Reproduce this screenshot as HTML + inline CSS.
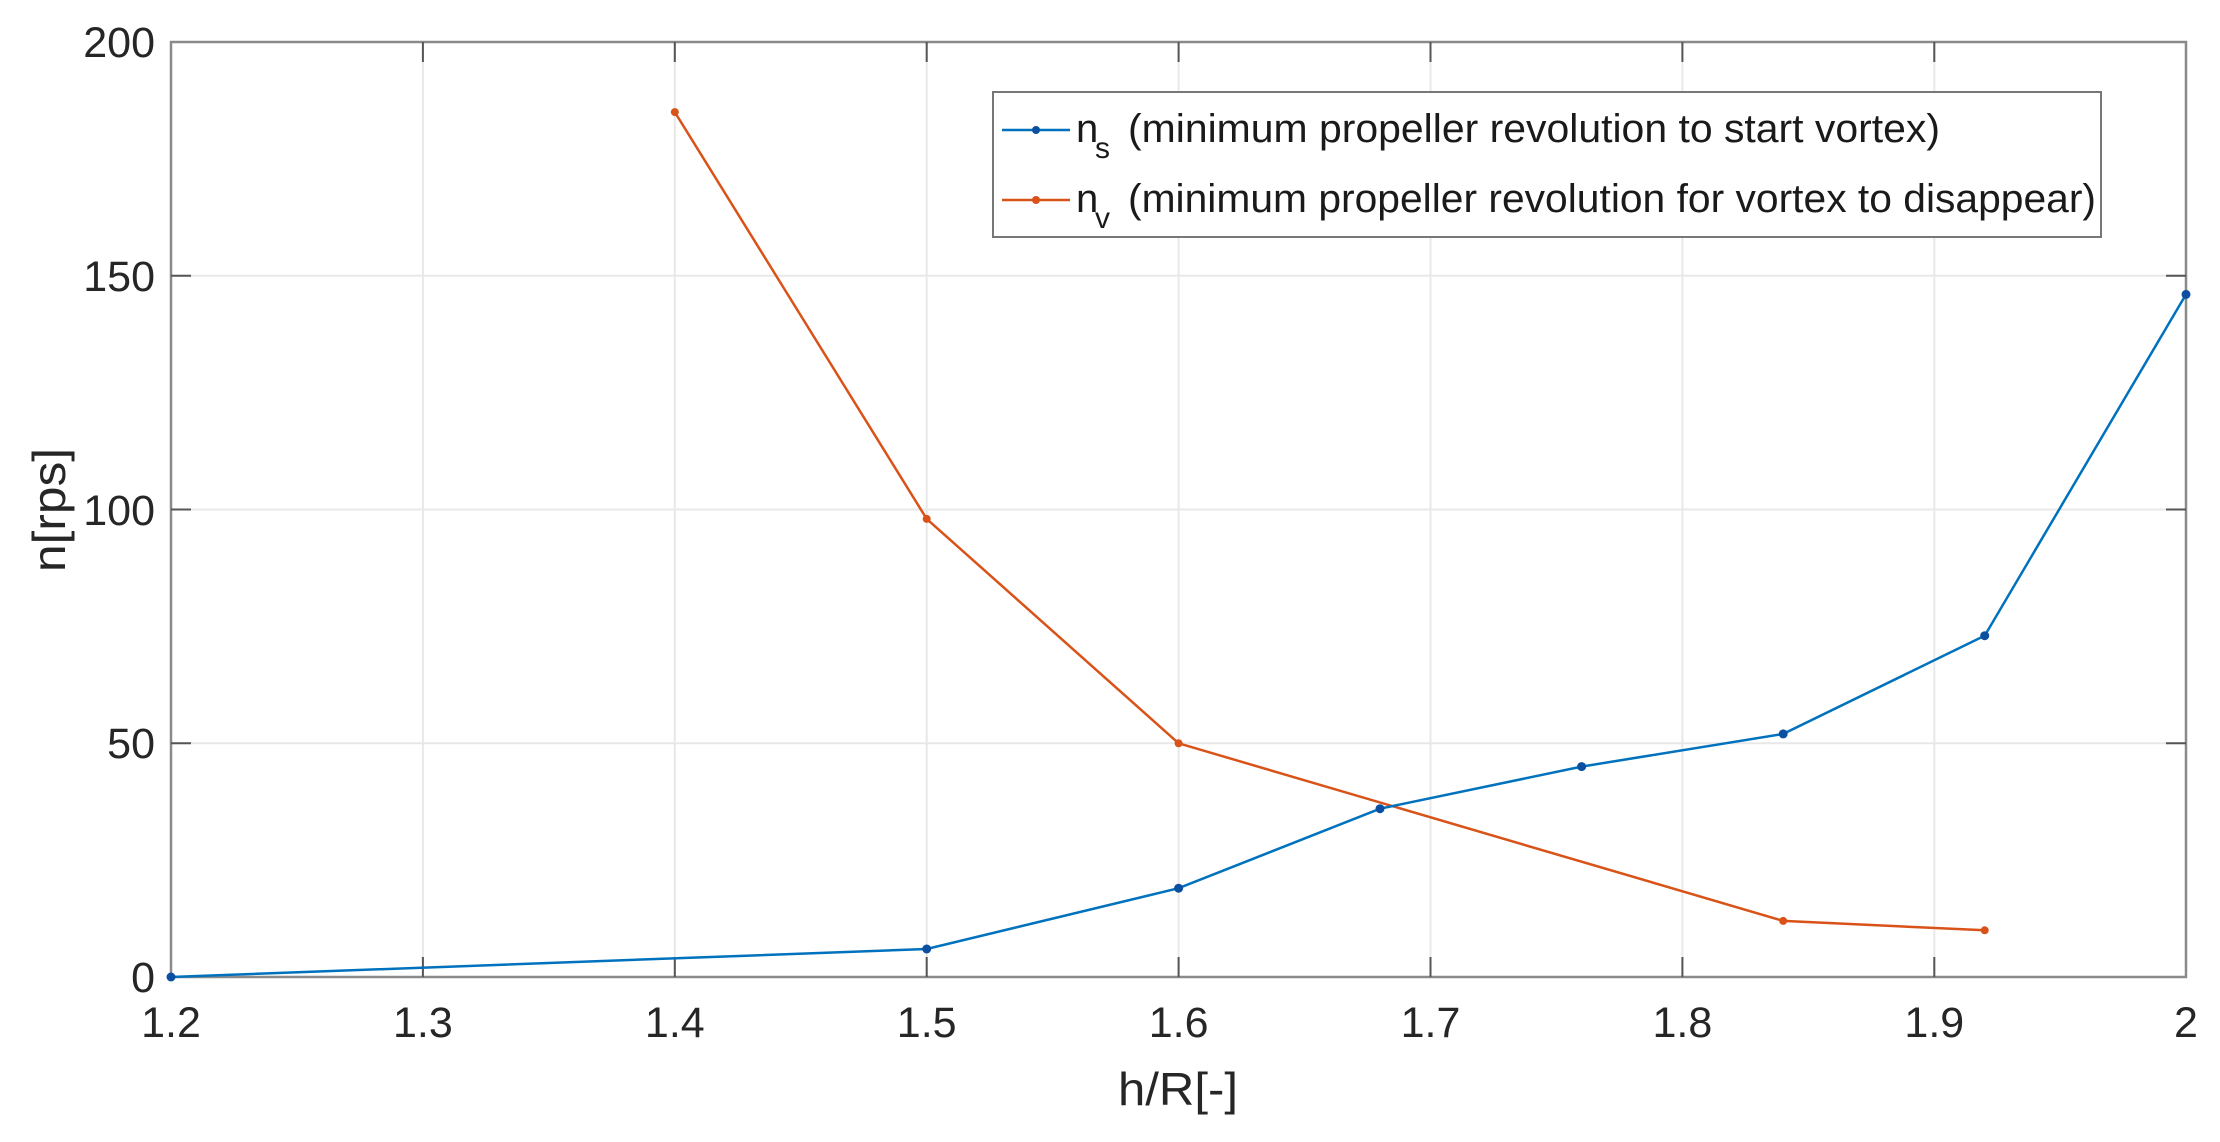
<!DOCTYPE html>
<html><head><meta charset="utf-8"><style>html,body{margin:0;padding:0;background:#fff}svg{display:block}</style></head>
<body>
<svg width="2220" height="1142" viewBox="0 0 2220 1142" xmlns="http://www.w3.org/2000/svg" font-family="Liberation Sans, sans-serif">
<rect width="2220" height="1142" fill="#fff"/>
<g stroke="#e8e8e8" stroke-width="2">
<line x1="422.9" y1="42" x2="422.9" y2="977"/><line x1="674.8" y1="42" x2="674.8" y2="977"/>
<line x1="926.7" y1="42" x2="926.7" y2="977"/><line x1="1178.6" y1="42" x2="1178.6" y2="977"/>
<line x1="1430.5" y1="42" x2="1430.5" y2="977"/><line x1="1682.4" y1="42" x2="1682.4" y2="977"/>
<line x1="1934.3" y1="42" x2="1934.3" y2="977"/>
<line x1="171" y1="743.3" x2="2186" y2="743.3"/><line x1="171" y1="509.5" x2="2186" y2="509.5"/>
<line x1="171" y1="275.8" x2="2186" y2="275.8"/>
</g>
<rect x="171" y="42" width="2015" height="935" fill="none" stroke="#8a8a8a" stroke-width="2.5"/>
<g stroke="#555" stroke-width="2">
<line x1="422.9" y1="977" x2="422.9" y2="957"/><line x1="674.8" y1="977" x2="674.8" y2="957"/>
<line x1="926.7" y1="977" x2="926.7" y2="957"/><line x1="1178.6" y1="977" x2="1178.6" y2="957"/>
<line x1="1430.5" y1="977" x2="1430.5" y2="957"/><line x1="1682.4" y1="977" x2="1682.4" y2="957"/>
<line x1="1934.3" y1="977" x2="1934.3" y2="957"/>
<line x1="422.9" y1="42" x2="422.9" y2="62"/><line x1="674.8" y1="42" x2="674.8" y2="62"/>
<line x1="926.7" y1="42" x2="926.7" y2="62"/><line x1="1178.6" y1="42" x2="1178.6" y2="62"/>
<line x1="1430.5" y1="42" x2="1430.5" y2="62"/><line x1="1682.4" y1="42" x2="1682.4" y2="62"/>
<line x1="1934.3" y1="42" x2="1934.3" y2="62"/>
<line x1="171" y1="743.3" x2="191" y2="743.3"/><line x1="171" y1="509.5" x2="191" y2="509.5"/><line x1="171" y1="275.8" x2="191" y2="275.8"/>
<line x1="2186" y1="743.3" x2="2166" y2="743.3"/><line x1="2186" y1="509.5" x2="2166" y2="509.5"/><line x1="2186" y1="275.8" x2="2166" y2="275.8"/>
</g>
<g font-size="43" fill="#262626" text-anchor="middle">
<text x="171" y="1037">1.2</text><text x="422.9" y="1037">1.3</text><text x="674.8" y="1037">1.4</text>
<text x="926.7" y="1037">1.5</text><text x="1178.6" y="1037">1.6</text><text x="1430.5" y="1037">1.7</text>
<text x="1682.4" y="1037">1.8</text><text x="1934.3" y="1037">1.9</text><text x="2186" y="1037">2</text>
</g>
<g font-size="43" fill="#262626" text-anchor="end">
<text x="155" y="992">0</text><text x="155" y="758">50</text><text x="155" y="525">100</text>
<text x="155" y="291">150</text><text x="155" y="57">200</text>
</g>
<text x="1178" y="1105" font-size="46" fill="#262626" text-anchor="middle" textLength="120" lengthAdjust="spacingAndGlyphs">h/R[-]</text>
<text transform="translate(65,510) rotate(-90)" font-size="46" fill="#262626" text-anchor="middle" textLength="124" lengthAdjust="spacingAndGlyphs">n[rps]</text>
<polyline fill="none" stroke="#D95319" stroke-width="2.5" points="674.8,112.1 926.7,518.9 1178.6,743.3 1783.2,920.9 1984.7,930.3"/>
<g fill="#D95319"><circle cx="674.8" cy="112.1" r="4"/><circle cx="926.7" cy="518.9" r="4"/><circle cx="1178.6" cy="743.3" r="4"/><circle cx="1783.2" cy="920.9" r="4"/><circle cx="1984.7" cy="930.3" r="4"/></g>
<polyline fill="none" stroke="#0072BD" stroke-width="2.5" points="171,977 926.7,949 1178.6,888.2 1380,808.7 1581.6,766.6 1783.2,733.9 1984.7,635.7 2186,294.4"/>
<g fill="#0a4fa0"><circle cx="171" cy="977" r="4.5"/><circle cx="926.7" cy="949" r="4.5"/><circle cx="1178.6" cy="888.2" r="4.5"/><circle cx="1380" cy="808.7" r="4.5"/><circle cx="1581.6" cy="766.6" r="4.5"/><circle cx="1783.2" cy="733.9" r="4.5"/><circle cx="1984.7" cy="635.7" r="4.5"/><circle cx="2186" cy="294.4" r="4.5"/></g>
<rect x="993" y="92" width="1108" height="145" fill="#fff" stroke="#777" stroke-width="2"/>
<line x1="1002" y1="130" x2="1070" y2="130" stroke="#0072BD" stroke-width="2.5"/><circle cx="1036" cy="130" r="4" fill="#0a4fa0"/>
<line x1="1002" y1="200" x2="1070" y2="200" stroke="#D95319" stroke-width="2.5"/><circle cx="1036" cy="200" r="4" fill="#D95319"/>
<g font-size="40" fill="#1a1a1a">
<text x="1076" y="142">n</text><text x="1095" y="158" font-size="30">s</text>
<text x="1128" y="142" textLength="812" lengthAdjust="spacingAndGlyphs">(minimum propeller revolution to start vortex)</text>
<text x="1076" y="212">n</text><text x="1095" y="228" font-size="30">v</text>
<text x="1128" y="212" textLength="968" lengthAdjust="spacingAndGlyphs">(minimum propeller revolution for vortex to disappear)</text>
</g>
</svg>
</body></html>
